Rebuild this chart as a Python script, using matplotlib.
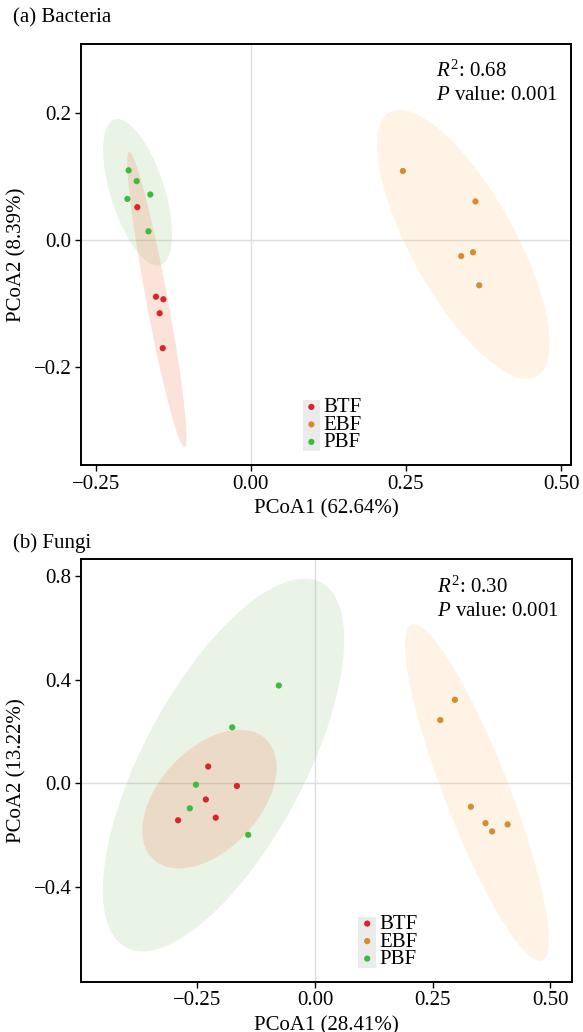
import numpy as np
import matplotlib
matplotlib.use("Agg")
import matplotlib.pyplot as plt
from matplotlib.patches import Polygon, Rectangle

plt.rcParams['font.family'] = ['Liberation Serif', 'DejaVu Serif']
plt.rcParams['mathtext.fontset'] = 'custom'
plt.rcParams['mathtext.rm'] = 'Liberation Serif'
plt.rcParams['mathtext.it'] = 'Liberation Serif:italic'

groups = ["BTF", "EBF", "PBF"]
point_colors = {"BTF": "#D7262B", "EBF": "#D98B2D", "PBF": "#3DBB3D"}
fill_colors = {"BTF": "#F07346", "EBF": "#FAC37D", "PBF": "#91C882"}

# (a) Bacteria
bac_btf_x = [-0.183, -0.153, -0.141, -0.147, -0.142]
bac_btf_y = [0.052, -0.089, -0.093, -0.115, -0.170]
bac_ebf_x = [0.245, 0.362, 0.339, 0.358, 0.368]
bac_ebf_y = [0.109, 0.061, -0.025, -0.019, -0.071]
bac_pbf_x = [-0.197, -0.184, -0.162, -0.199, -0.165]
bac_pbf_y = [0.110, 0.093, 0.072, 0.065, 0.014]

# (b) Fungi
fun_btf_x = [-0.227, -0.166, -0.232, -0.211, -0.291]
fun_btf_y = [0.065, -0.010, -0.062, -0.132, -0.142]
fun_ebf_x = [0.297, 0.266, 0.331, 0.362, 0.376, 0.409]
fun_ebf_y = [0.322, 0.244, -0.090, -0.153, -0.185, -0.158]
fun_pbf_x = [-0.077, -0.176, -0.253, -0.266, -0.142]
fun_pbf_y = [0.377, 0.216, -0.005, -0.096, -0.198]

bac_xticks = [-0.25, 0.0, 0.25, 0.50]
bac_xticklabels = ["\u22120.25", "0.00", "0.25", "0.50"]
bac_yticks = [-0.2, 0.0, 0.2]
bac_yticklabels = ["\u22120.2", "0.0", "0.2"]
fun_xticks = [-0.25, 0.0, 0.25, 0.50]
fun_xticklabels = ["\u22120.25", "0.00", "0.25", "0.50"]
fun_yticks = [-0.4, 0.0, 0.4, 0.8]
fun_yticklabels = ["\u22120.4", "0.0", "0.4", "0.8"]


def cov_trob(x, nu=5, maxit=25, tol=0.01):
    n, p = x.shape
    wt = np.ones(n)
    loc = x.mean(axis=0)
    w = np.sqrt(wt)
    for _ in range(maxit):
        w0 = w
        X = x - loc
        A = np.sqrt(w / w.sum())[:, None] * X
        _, d, vt = np.linalg.svd(A, full_matrices=False)
        wX = X @ vt.T @ np.diag(1.0 / d)
        Q = (wX ** 2).sum(axis=1)
        w = (wt * (nu + p)) / (nu + Q)
        loc = (w[:, None] * x).sum(axis=0) / w.sum()
        if np.all(np.abs(w - w0) < tol):
            break
    X = x - loc
    cov = (np.sqrt(w)[:, None] * X).T @ (np.sqrt(w)[:, None] * X) / wt.sum()
    return loc, cov


def ellipse_pts(xs, ys, level=0.95, segments=120):
    data = np.column_stack([xs, ys])
    n = len(xs)
    dfd = n - 1
    # F quantile for dfn = 2 (closed form)
    fq = (dfd / 2.0) * ((1 - level) ** (-2.0 / dfd) - 1)
    radius = np.sqrt(2 * fq)
    center, shape = cov_trob(data)
    chol = np.linalg.cholesky(shape).T  # upper triangular like R chol
    ang = np.linspace(0, 2 * np.pi, segments + 1)
    circ = np.column_stack([np.cos(ang), np.sin(ang)])
    return center + radius * (circ @ chol)


fig = plt.figure(figsize=(5.83, 10.32), dpi=100)
ax1 = fig.add_axes([0.139, 0.5494, 0.8405, 0.408])
ax2 = fig.add_axes([0.1395, 0.0487, 0.8410, 0.4093])

panels = [
    (ax1, {"BTF": (bac_btf_x, bac_btf_y), "EBF": (bac_ebf_x, bac_ebf_y), "PBF": (bac_pbf_x, bac_pbf_y)},
     (-0.2737, 0.516), (-0.354, 0.309), bac_xticks, bac_xticklabels, bac_yticks, bac_yticklabels,
     "PCoA1 (62.64%)", "PCoA2 (8.39%)", "0.68", (0.452, 0.030)),
    (ax2, {"BTF": (fun_btf_x, fun_btf_y), "EBF": (fun_ebf_x, fun_ebf_y), "PBF": (fun_pbf_x, fun_pbf_y)},
     (-0.4965, 0.545), (-0.764, 0.863), fun_xticks, fun_xticklabels, fun_yticks, fun_yticklabels,
     "PCoA1 (28.41%)", "PCoA2 (13.22%)", "0.30", (0.565, 0.030)),
]

FS = 15
legends = []
for ax, dat, xl, yl, xt, xtl, yt, ytl, xlab, ylab, r2, legpos in panels:
    ax.axvline(0, color="#DDDDDD", lw=1.0, zorder=0.5)
    ax.axhline(0, color="#DDDDDD", lw=1.0, zorder=0.5)
    for g in ["PBF", "EBF", "BTF"]:
        xs, ys = dat[g]
        pts = ellipse_pts(np.array(xs), np.array(ys))
        ax.add_patch(Polygon(pts, closed=True, facecolor=fill_colors[g], alpha=0.2,
                             edgecolor="none", zorder=1))
    handles = []
    for g in groups:
        xs, ys = dat[g]
        h = ax.scatter(xs, ys, s=20, color=point_colors[g], edgecolors="none", zorder=3, label=g)
        handles.append(h)
    ax.set_xlim(*xl)
    ax.set_ylim(*yl)
    ax.set_xticks(xt)
    ax.set_xticklabels(xtl)
    ax.set_yticks(yt)
    ax.set_yticklabels(ytl)
    ax.tick_params(direction="out", length=4, width=1.0, labelsize=FS, pad=3, color="black")
    for sp in ax.spines.values():
        sp.set_linewidth(1.4)
        sp.set_color("black")
    ax.set_xlabel(xlab, fontsize=FS, labelpad=4)
    ax.set_ylabel(ylab, fontsize=FS, labelpad=5)
    ax.text(0.725, 0.935, r"$\mathit{R}^{2}$" + ": " + r2, transform=ax.transAxes, fontsize=FS,
            ha="left", va="center")
    ax.text(0.725, 0.877, r"$\mathit{P}$" + " value: 0.001", transform=ax.transAxes, fontsize=FS,
            ha="left", va="center")
    leg = ax.legend(handles=handles, loc="lower left", frameon=False, fontsize=FS,
                    handlelength=0.85, handletextpad=0.15, labelspacing=-0.1,
                    borderpad=0.0, borderaxespad=0.0, markerscale=1.0,
                    bbox_to_anchor=legpos, bbox_transform=ax.transAxes)
    legends.append((ax, leg))

fig.text(13 / 583, 1 - 18 / 1032, "(a) Bacteria", fontsize=FS, ha="left", va="center")
fig.text(13 / 583, 1 - 543 / 1032, "(b) Fungi", fontsize=FS, ha="left", va="center")

fig.canvas.draw()
renderer = fig.canvas.get_renderer()
for ax, leg in legends:
    exts = [t.get_window_extent(renderer) for t in leg.get_texts()]
    fs_px = FS * fig.dpi / 72.0
    x1 = min(e.x0 for e in exts) - 0.15 * fs_px
    x0 = x1 - 0.85 * fs_px
    y0 = min(e.y0 for e in exts) + 1
    y1 = max(e.y1 for e in exts) - 2
    W, H = fig.bbox.width, fig.bbox.height
    ax.add_patch(Rectangle((x0 / W, y0 / H), (x1 - x0) / W, (y1 - y0) / H,
                           transform=fig.transFigure, facecolor="#EBEBEB",
                           edgecolor="none", zorder=4.5))

fig.savefig("out.png", dpi=100)
